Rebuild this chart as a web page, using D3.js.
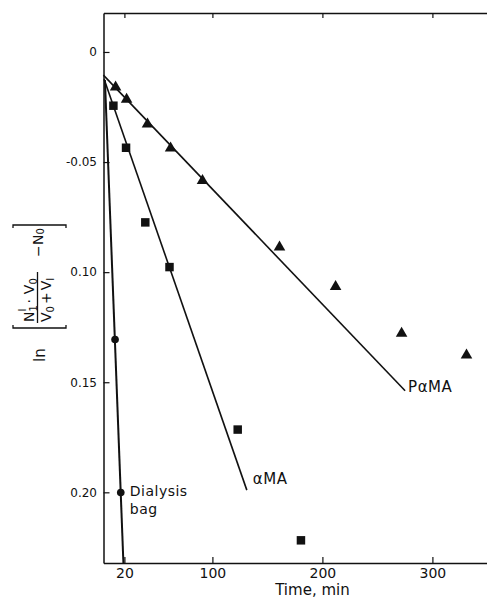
<!DOCTYPE html>
<html>
<head>
<meta charset="utf-8">
<script src="https://cdn.jsdelivr.net/npm/d3@7"></script>
<style>
  body { margin: 0; background: #fff; }
  svg { display: block; }
</style>
</head>
<body>
<svg id="chart" width="487" height="601"></svg>
<script>
// Axis ticks and their printed labels
const timeTicks = [20, 100, 200, 300];
const timeTickLabels = ["20", "100", "200", "300"];
const lnTicks = [0, 0.05, 0.10, 0.15, 0.20];
const lnTickLabels = ["0", "-0.05", "0.10", "0.15", "0.20"];

// PαMA (triangles)
const pamaTime = [12, 22, 41, 62, 91, 161, 212, 272, 331];
const pamaLn = [0.0160, 0.0215, 0.0328, 0.0437, 0.0585, 0.0887, 0.1066, 0.1278, 0.1377];
const pamaFit = [[0.9, 0.0105], [275.2, 0.1539]];

// αMA (squares)
const amaTime = [10, 21.5, 39, 61, 123, 180.5];
const amaLn = [0.0244, 0.0435, 0.0774, 0.0977, 0.1715, 0.2218];
const amaFit = [[1.5, 0.0123], [131.3, 0.1990]];

// Dialysis bag (circles)
const bagTime = [11.5, 16.7];
const bagLn = [0.1306, 0.2001];
const bagFit = [[2.3, 0.0127], [19.1, 0.2321]];

const curveLabels = ["PαMA", "αMA", "Dialysis", "bag"];

const FONT = "'DejaVu Sans', 'Liberation Sans', sans-serif";
const INK = "#111";

const svg = d3.select("#chart");

const x = d3.scaleLinear().domain([1, 350]).range([103.5, 487.4]);
const y = d3.scaleLinear().domain([-0.0177, 0.2321]).range([13, 563]);

// ---- axes ----
const styleAxis = g => {
  g.selectAll("path.domain").attr("stroke", INK).attr("stroke-width", 1.5);
  g.selectAll(".tick line").attr("stroke", INK).attr("stroke-width", 1.2);
  g.selectAll(".tick text").attr("fill", INK).attr("font-family", FONT);
};

svg.append("g")
  .attr("transform", `translate(${x(1)},0)`)
  .call(d3.axisLeft(y).tickValues(lnTicks)
    .tickFormat((d, i) => lnTickLabels[i])
    .tickSizeInner(-6).tickSizeOuter(0).tickPadding(6.5))
  .call(styleAxis)
  .call(g => g.selectAll(".tick text").attr("font-size", 12));

svg.append("g")
  .attr("transform", `translate(0,${y(0.2321)})`)
  .call(d3.axisBottom(x).tickValues(timeTicks)
    .tickFormat((d, i) => timeTickLabels[i])
    .tickSizeInner(-6).tickSizeOuter(0).tickPadding(5))
  .call(styleAxis)
  .call(g => g.selectAll(".tick text").attr("font-size", 14));

svg.append("g")
  .attr("transform", `translate(0,${y(-0.0177)})`)
  .call(d3.axisTop(x).tickValues(timeTicks).tickFormat("")
    .tickSizeInner(-5).tickSizeOuter(0))
  .call(styleAxis);

svg.append("text")
  .attr("x", (x(1) + x(350)) / 2 + 17).attr("y", 595)
  .attr("text-anchor", "middle")
  .attr("font-family", FONT).attr("font-size", 15).attr("fill", INK)
  .text("Time, min");

// ---- y-axis label: ln [ N1i·V0 / (V0+Vi) − N0 ] ----
const yl = svg.append("g")
  .attr("transform", "rotate(-90)")
  .attr("font-family", FONT).attr("fill", INK);

yl.append("text").attr("x", -362).attr("y", 45).attr("font-size", 15).text("ln");

const bracket = (u, dir) => `M${u + dir * 3},13H${u}V66H${u + dir * 3}`;
yl.append("path").attr("d", bracket(-328, 1)).attr("fill", "none").attr("stroke", INK).attr("stroke-width", 1.3);
yl.append("path").attr("d", bracket(-225, -1)).attr("fill", "none").attr("stroke", INK).attr("stroke-width", 1.3);

yl.append("line").attr("x1", -323).attr("x2", -272).attr("y1", 37.5).attr("y2", 37.5)
  .attr("stroke", INK).attr("stroke-width", 1.3);

const num = yl.append("text").attr("x", -322).attr("y", 34).attr("font-size", 14);
num.append("tspan").text("N");
num.append("tspan").attr("font-size", 10).attr("dy", 3).text("1");
num.append("tspan").attr("font-size", 10).attr("dx", -6.4).attr("dy", -11).text("I");
num.append("tspan").attr("dy", 8).attr("dx", 5).text("·");
num.append("tspan").attr("dx", 5).text("V");
num.append("tspan").attr("font-size", 10).attr("dy", 3).text("0");

const den = yl.append("text").attr("x", -322).attr("y", 51).attr("font-size", 14);
den.append("tspan").text("V");
den.append("tspan").attr("font-size", 10).attr("dy", 3).text("0");
den.append("tspan").attr("dy", -3).attr("dx", 2).text("+");
den.append("tspan").attr("dx", 2).text("V");
den.append("tspan").attr("font-size", 10).attr("dy", 3).text("I");

yl.append("text").attr("x", -257).attr("y", 43).attr("font-size", 14).text("−");
const n0 = yl.append("text").attr("x", -245).attr("y", 43).attr("font-size", 14);
n0.append("tspan").text("N");
n0.append("tspan").attr("font-size", 10).attr("dy", 1).text("0");

// ---- fitted lines ----
const line = d3.line().x(d => x(d[0])).y(d => y(d[1]));
[[pamaFit, 1.6], [amaFit, 1.6], [bagFit, 2]].forEach(([pts, w]) => {
  svg.append("path").attr("d", line(pts))
    .attr("fill", "none").attr("stroke", INK).attr("stroke-width", w);
});

// ---- data markers ----
const drawMarkers = (times, vals, type, size) => {
  svg.append("g").selectAll("path")
    .data(times.map((t, i) => [t, vals[i]]))
    .join("path")
    .attr("transform", d => `translate(${x(d[0])},${y(d[1])})`)
    .attr("d", d3.symbol().type(type).size(size))
    .attr("fill", INK);
};
drawMarkers(pamaTime, pamaLn, d3.symbolTriangle, 58);
drawMarkers(amaTime, amaLn, d3.symbolSquare, 72);
drawMarkers(bagTime, bagLn, d3.symbolCircle, 46);

// ---- curve labels ----
const lab = (txt, px, py, size) => svg.append("text")
  .attr("x", px).attr("y", py)
  .attr("font-family", FONT).attr("font-size", size).attr("fill", INK)
  .attr("letter-spacing", 0.5)
  .text(txt);
lab(curveLabels[0], x(pamaFit[1][0]) + 3, y(pamaFit[1][1]) + 1, 15);
lab(curveLabels[1], x(amaFit[1][0]) + 6, y(amaFit[1][1]) - 6, 15);
lab(curveLabels[2], x(bagTime[1]) + 9, y(bagLn[1]) + 3, 14);
lab(curveLabels[3], x(bagTime[1]) + 9, y(bagLn[1]) + 21, 14);
</script>
</body>
</html>
